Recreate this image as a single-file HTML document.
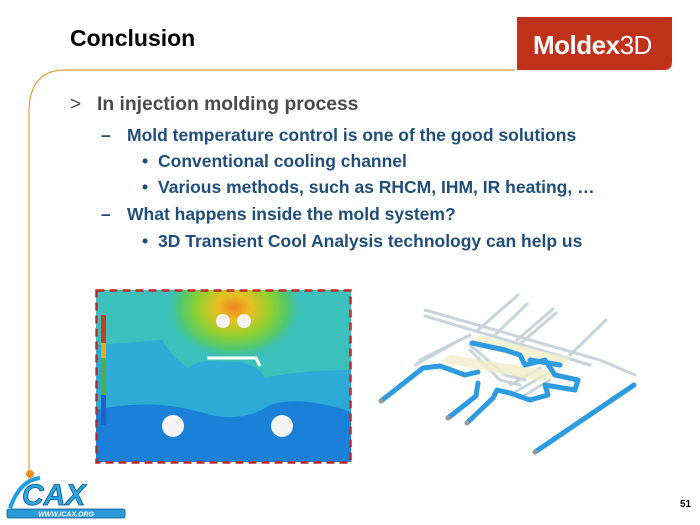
<!DOCTYPE html>
<html><head><meta charset="utf-8"><style>
body{margin:0;width:700px;height:525px;background:#fff;position:relative;overflow:hidden;font-family:"Liberation Sans",Arial,sans-serif}
.t{position:absolute;white-space:nowrap;font-weight:bold}
.b{color:#1f4e79;font-size:17.5px}
</style></head><body>
<svg width="700" height="525" style="position:absolute;left:0;top:0">
<path d="M515,70 L62,70 Q30,72 29,110 L29,480" fill="none" stroke="#e0a040" stroke-width="1.2"/>
<path d="M517,17 L672,17 L672,62 Q672,70 664,70 L517,70 Z" fill="#c0311a"/>
<defs>
<radialGradient id="hot" cx="0.5" cy="0.4" r="0.5"><stop offset="0" stop-color="#f08020"/><stop offset="0.25" stop-color="#e8c020"/><stop offset="0.55" stop-color="#90d030"/><stop offset="0.8" stop-color="#50c870"/><stop offset="1" stop-color="#40c0a0" stop-opacity="0"/></radialGradient>
<clipPath id="c"><rect x="96" y="290" width="255" height="172"/></clipPath>
</defs>
<g clip-path="url(#c)">
<rect x="96" y="290" width="255" height="172" fill="#2eaad6"/>
<path d="M150,290 L351,290 L351,370 Q300,370 265,378 Q255,360 225,362 Q200,358 188,368 Q170,355 162,340 L96,345 L96,290 Z" fill="#3cc0bc"/>
<ellipse cx="234" cy="318" rx="68" ry="52" fill="url(#hot)"/>
<path d="M96,410 Q150,398 200,412 Q240,425 270,405 Q300,395 351,412 L351,462 L96,462 Z" fill="#1a80d8"/>
</g>
<rect x="101" y="315" width="5" height="110" fill="#50b040"/>
<rect x="101" y="315" width="5" height="28" fill="#c04020"/>
<rect x="101" y="343" width="5" height="15" fill="#e0b020"/>
<rect x="101" y="395" width="5" height="30" fill="#2060d0"/>
<circle cx="223" cy="321" r="7" fill="#f4f4f4"/><circle cx="244" cy="321" r="7" fill="#f4f4f4"/>
<path d="M207,358 L256,358 L260,366" fill="none" stroke="#fff" stroke-width="3"/>
<circle cx="173" cy="426" r="11" fill="#f4f4f4"/><circle cx="282" cy="426" r="11" fill="#f4f4f4"/>
<rect x="96.5" y="290.5" width="254" height="172" fill="none" stroke="#c02828" stroke-width="2.5" stroke-dasharray="8,5"/>
<g stroke="#c8d4dc" stroke-width="3" fill="none" stroke-linecap="round">
<path d="M425,310 L600,360 L635,375"/><path d="M425,316 L590,365"/>
<path d="M478,330 L518,295"/><path d="M495,335 L527,304"/><path d="M517,340 L553,309"/><path d="M520,344 L556,313"/>
<path d="M570,355 L606,320"/>
<path d="M420,360 L470,335"/><path d="M415,365 L460,340"/>
<path d="M470,345 L505,375 L525,380"/><path d="M470,350 L500,380 L520,385"/>
<path d="M510,385 L540,368"/><path d="M515,392 L545,375"/><path d="M520,398 L550,380"/>
</g>
<path d="M480,335 L570,358 L560,368 L470,345 Z" fill="#f0ecc8" opacity=".8"/>
<path d="M450,355 L560,372 L545,382 L440,362 Z" fill="#f0ecc8" opacity=".8"/>
<g stroke="#2e9be0" stroke-width="5" fill="none" stroke-linecap="round" stroke-linejoin="round">
<path d="M381,401 L423,368 L440,366 L465,375 L478,372"/>
<path d="M448,418 L476,396 L478,383"/>
<path d="M467,423 L493,398 L497,390 L510,393"/>
<path d="M535,452 L634,385"/>
<path d="M472,343 L505,350 L520,355 L525,365 L545,360 L555,375 L578,380 L575,390 L545,385 L548,395 L530,400 L510,393"/>
<path d="M530,360 L560,365"/>
</g>
<g fill="#999"><circle cx="381" cy="401" r="2.5"/><circle cx="448" cy="418" r="2.5"/><circle cx="467" cy="423" r="2.5"/><circle cx="535" cy="452" r="2.5"/></g>
<path d="M10,508 Q20,480 40,478" stroke="#1ea0e0" stroke-width="4" fill="none"/>
<circle cx="30" cy="474" r="4" fill="#f09020"/>
<text x="22" y="505" font-family="Liberation Sans" font-style="italic" font-weight="bold" font-size="30" fill="#2aa8e0" stroke="#0a5090" stroke-width="0.8">CAX</text>
<rect x="7" y="509" width="118" height="9" rx="2" fill="#2a9ad8" stroke="#0a5090" stroke-width="0.8"/>
<text x="66" y="516.5" text-anchor="middle" font-family="Liberation Sans" font-style="italic" font-weight="bold" font-size="7" fill="#fff">WWW.ICAX.ORG</text>
</svg>
<div class="t" style="left:70px;top:25px;font-size:23px;color:#000">Conclusion</div>
<div class="t" style="left:533px;top:30px;font-size:26px;color:#fff;letter-spacing:-0.5px">Moldex<span style="font-weight:normal">3D</span></div>
<div class="t" style="left:70px;top:94px;font-size:19px;color:#4a4a4a;font-weight:normal">&gt;</div>
<div class="t" style="left:97px;top:94px;font-size:19.3px;color:#4a4a4a">In injection molding process</div>
<div class="t b" style="left:101px;top:125px">–</div>
<div class="t b" style="left:127px;top:125px">Mold temperature control is one of the good solutions</div>
<div class="t b" style="left:142px;top:151px">•</div>
<div class="t b" style="left:158px;top:151px">Conventional cooling channel</div>
<div class="t b" style="left:142px;top:177px">•</div>
<div class="t b" style="left:158px;top:177px">Various methods, such as RHCM, IHM, IR heating, …</div>
<div class="t b" style="left:101px;top:204px">–</div>
<div class="t b" style="left:127px;top:204px">What happens inside the mold system?</div>
<div class="t b" style="left:142px;top:231px">•</div>
<div class="t b" style="left:158px;top:231px">3D Transient Cool Analysis technology can help us</div>
<div class="t" style="left:680px;top:499px;font-size:10px;color:#000">51</div>
</body></html>
